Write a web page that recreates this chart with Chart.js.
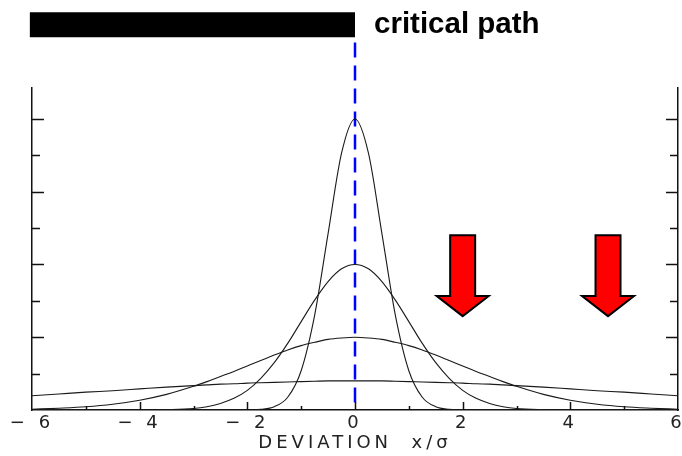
<!DOCTYPE html>
<html>
<head>
<meta charset="utf-8">
<script src="https://cdn.jsdelivr.net/npm/chart.js@4.4.1/dist/chart.umd.min.js"></script>
<style>
  html, body { margin: 0; padding: 0; background: #fff; }
  #wrap { width: 682px; height: 456px; }
</style>
</head>
<body>
<div id="wrap"><canvas id="chart-deviation"></canvas></div>
<script>
// deviation x/sigma sample points
const deviation = [-6, -5.5, -5, -4.5, -4, -3.5,
  -3, -2.75, -2.5, -2.25, -2, -1.75, -1.5, -1.25, -1, -0.75, -0.5, -0.25, 0,
  0.25, 0.5, 0.75, 1, 1.25, 1.5, 1.75, 2, 2.25, 2.5, 2.75, 3,
  3.5, 4, 4.5, 5, 5.5, 6];

// distribution heights, narrowest to widest
const sigmaHalf = [0, 0, 0, 0, 0, 0,
  0, 0, 0, 0, 0, 0.02, 0.09, 0.35, 1.08, 2.60, 4.85, 7.06, 8,
  7.06, 4.85, 2.60, 1.08, 0.35, 0.09, 0.02, 0, 0, 0, 0, 0,
  0, 0, 0, 0, 0, 0];
const sigmaOne = [0, 0, 0, 0, 0, 0.01,
  0.04, 0.09, 0.18, 0.32, 0.54, 0.87, 1.30, 1.83, 2.43, 3.02, 3.53, 3.88, 4,
  3.88, 3.53, 3.02, 2.43, 1.83, 1.30, 0.87, 0.54, 0.32, 0.18, 0.09, 0.04,
  0.01, 0, 0, 0, 0, 0];
const sigmaTwo = [0.02, 0.05, 0.09, 0.16, 0.27, 0.43,
  0.65, 0.78, 0.92, 1.06, 1.21, 1.36, 1.51, 1.65, 1.77, 1.86, 1.94, 1.98, 2,
  1.98, 1.94, 1.86, 1.77, 1.65, 1.51, 1.36, 1.21, 1.06, 0.92, 0.78, 0.65,
  0.43, 0.27, 0.16, 0.09, 0.05, 0.02];
const sigmaFive = [0.39, 0.44, 0.49, 0.53, 0.58, 0.63,
  0.67, 0.69, 0.71, 0.72, 0.74, 0.75, 0.76, 0.77, 0.78, 0.79, 0.80, 0.80, 0.80,
  0.80, 0.80, 0.79, 0.78, 0.77, 0.76, 0.75, 0.74, 0.72, 0.71, 0.69, 0.67,
  0.63, 0.58, 0.53, 0.49, 0.44, 0.39];

// critical path bar (x extent) and marker line at zero
const criticalPathFrom = -6.04;
const criticalPathTo = 0;
const criticalPathLevel = 10.59;
const markerDeviation = 0;
const markerSpan = [10.1, 0.12];

// arrows pointing down onto the tail
const arrowDeviation = [2, 4.7];
const arrowTop = 4.8;
const arrowHeadStart = 3.13;
const arrowTip = 2.58;

const yMax = 8.85;

const toPoints = (ys) => deviation.map((x, i) => ({ x, y: ys[i] }));

function curve(ys) {
  return {
    data: toPoints(ys),
    borderColor: '#1a1a1a',
    borderWidth: 1.1,
    pointRadius: 0,
    fill: false,
    cubicInterpolationMode: 'monotone'
  };
}

// inward tick marks, text spacing, arrows and the "critical path" label
const decorations = {
  id: 'decorations',
  beforeDraw(chart) {
    chart.ctx.letterSpacing = '4px';
  },
  beforeDatasetsDraw(chart) {
    chart.ctx.letterSpacing = '0px';
  },
  afterDraw(chart) {
    const { ctx, chartArea: a, scales } = chart;
    const x = scales.x, y = scales.y;
    ctx.save();
    ctx.letterSpacing = '0px';
    ctx.strokeStyle = '#111';
    ctx.lineWidth = 1.5;
    ctx.beginPath();
    for (let v = 1; v <= 8; v++) {
      const py = Math.round(y.getPixelForValue(v)) + 0.5;
      const len = v % 2 === 0 ? 12 : 8;
      ctx.moveTo(a.left, py); ctx.lineTo(a.left + len, py);
      ctx.moveTo(a.right, py); ctx.lineTo(a.right - len, py);
    }
    for (let v = -5; v <= 5; v++) {
      const px = Math.round(x.getPixelForValue(v)) + 0.5;
      const len = v % 2 === 0 ? 8 : 4;
      ctx.moveTo(px, a.bottom); ctx.lineTo(px, a.bottom - len);
    }
    ctx.stroke();

    // red arrows
    ctx.fillStyle = '#ff0000';
    ctx.strokeStyle = '#000';
    ctx.lineWidth = 2;
    ctx.lineJoin = 'miter';
    const top = y.getPixelForValue(arrowTop);
    const head = y.getPixelForValue(arrowHeadStart);
    const tip = y.getPixelForValue(arrowTip);
    arrowDeviation.forEach(d => {
      const cx = x.getPixelForValue(d);
      ctx.beginPath();
      ctx.moveTo(cx - 12.5, top);
      ctx.lineTo(cx + 12.5, top);
      ctx.lineTo(cx + 12.5, head);
      ctx.lineTo(cx + 26, head);
      ctx.lineTo(cx, tip);
      ctx.lineTo(cx - 26, head);
      ctx.lineTo(cx - 12.5, head);
      ctx.closePath();
      ctx.fill();
      ctx.stroke();
    });

    // label to the right of the bar
    ctx.fillStyle = '#000';
    ctx.font = 'bold 29.5px "Liberation Sans", Arial, sans-serif';
    ctx.textAlign = 'left';
    ctx.textBaseline = 'middle';
    ctx.fillText('critical path', x.getPixelForValue(criticalPathTo) + 19, y.getPixelForValue(criticalPathLevel));
    ctx.restore();
  }
};

new Chart(document.getElementById('chart-deviation'), {
  type: 'line',
  data: {
    datasets: [
      curve(sigmaHalf),
      curve(sigmaOne),
      curve(sigmaTwo),
      curve(sigmaFive),
      {
        data: [{ x: criticalPathFrom, y: criticalPathLevel }, { x: criticalPathTo, y: criticalPathLevel }],
        borderColor: '#000',
        borderWidth: 25,
        borderCapStyle: 'butt',
        pointRadius: 0,
        clip: false
      },
      {
        data: markerSpan.map(v => ({ x: markerDeviation, y: v })),
        borderColor: '#0000ff',
        borderWidth: 2.5,
        borderDash: [15, 8],
        borderCapStyle: 'butt',
        pointRadius: 0,
        clip: false
      }
    ]
  },
  options: {
    responsive: true,
    maintainAspectRatio: false,
    animation: false,
    devicePixelRatio: 1,
    layout: { padding: { left: 32, right: 4, top: 88, bottom: 0 } },
    plugins: {
      legend: { display: false },
      tooltip: { enabled: false }
    },
    scales: {
      x: {
        type: 'linear',
        min: -6,
        max: 6,
        grid: { color: 'transparent', drawOnChartArea: false, drawTicks: false },
        border: { color: '#111', width: 1.5 },
        ticks: {
          stepSize: 1,
          padding: 3,
          autoSkip: false,
          maxRotation: 0,
          color: '#222',
          font: { family: '"DejaVu Sans"', size: 18 },
          callback: (v) => v % 2 ? '' : (v < 0 ? '\u2212 ' + (-v) : String(v))
        },
        title: {
          display: true,
          text: 'DEVIATION  x/\u03c3',
          color: '#222',
          font: { family: '"DejaVu Sans"', size: 18 },
          padding: { top: 0, bottom: 2 }
        },
        afterFit: (s) => { s.height = 46; s.paddingLeft = 0; s.paddingRight = 0; }
      },
      y: {
        position: 'left',
        min: 0,
        max: yMax,
        grid: { color: 'transparent', drawOnChartArea: false, drawTicks: false },
        border: { color: '#111', width: 1.5 },
        ticks: { display: false, stepSize: 1 },
        afterFit: (s) => { s.width = 0; }
      },
      y2: {
        position: 'right',
        min: 0,
        max: yMax,
        grid: { color: 'transparent', drawOnChartArea: false, drawTicks: false },
        border: { color: '#111', width: 1.5 },
        ticks: { display: false, stepSize: 1 },
        afterFit: (s) => { s.width = 0; }
      }
    }
  },
  plugins: [decorations]
});
</script>
</body>
</html>
